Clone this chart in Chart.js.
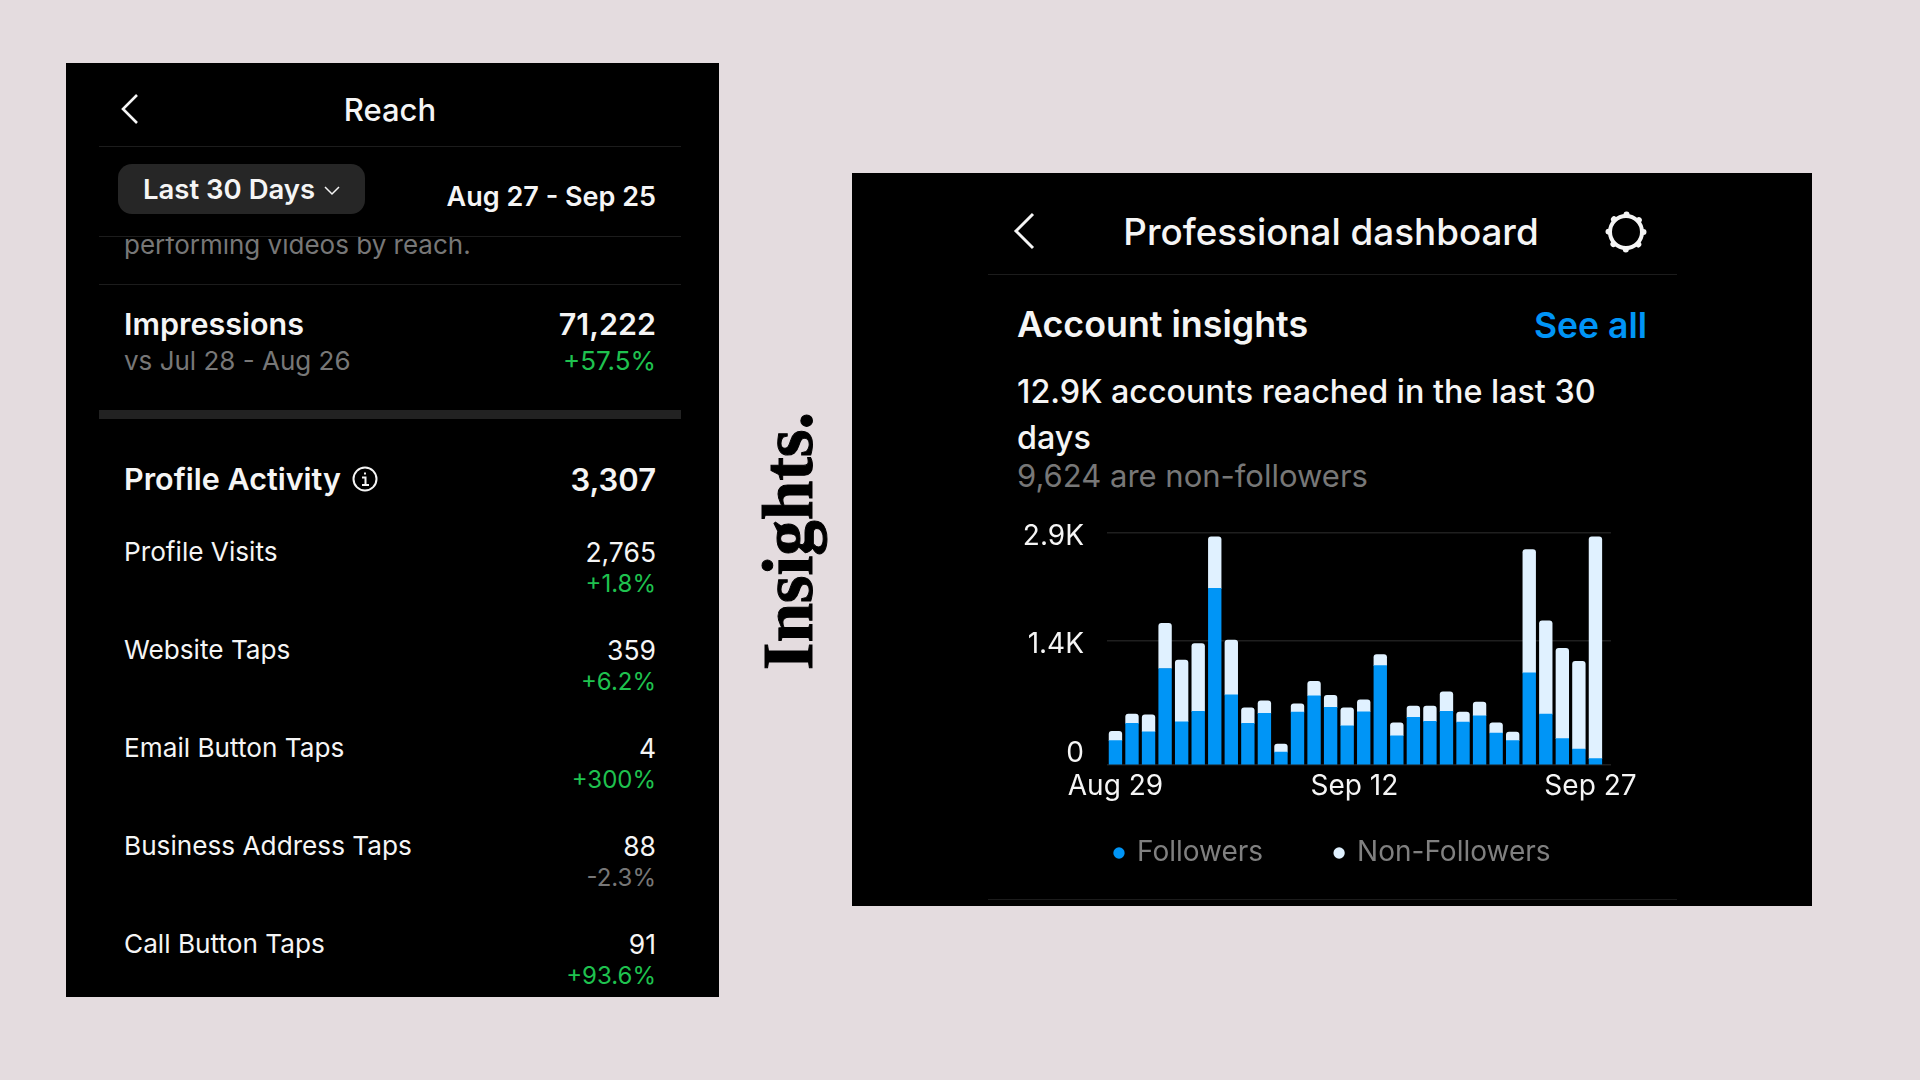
<!DOCTYPE html>
<html>
<head>
<meta charset="utf-8">
<title>Insights</title>
<script src="https://cdn.jsdelivr.net/npm/chart.js@4"></script>
<style>
html, body { margin: 0; padding: 0; }
body { width: 1920px; height: 1080px; background: #e4dcdf; position: relative; overflow: hidden; font-family: Inter, sans-serif; color: #f5f5f5; }
.panel { position: absolute; background: #000; }
.t { position: absolute; white-space: nowrap; line-height: 1; transform: translateY(-50%); }
.r { transform: translate(-100%, -50%); }
.c { transform: translate(-50%, -50%); }
.line { position: absolute; background: #1c1c1c; height: 1px; }
.grey { color: #777; }
.green { color: #1fc24f; }
svg { position: absolute; }
#insights { position: absolute; left: 788px; top: 541px; transform: translate(-50%, -50%) rotate(-90deg); font: bold 71px "Liberation Serif", serif; color: #000; white-space: nowrap; line-height: 1; -webkit-text-stroke: 1px #000; }
#chartBox { position: absolute; left: 1010px; top: 500px; width: 718px; height: 415px; }
</style>
</head>
<body>

<div class="panel" style="left:66px;top:63px;width:653px;height:934px"></div>
<div class="panel" style="left:852px;top:173px;width:960px;height:733px"></div>

<svg style="left:118px;top:92px" width="24" height="34" fill="none" stroke="#f5f5f5" stroke-width="2.6"><path d="M19 3 L5 17 L19 31"/></svg>
<div class="t c" style="left:390px;top:109px;font-size:31px;font-weight:500">Reach</div>
<div class="line" style="left:99px;top:146px;width:582px"></div>
<div style="position:absolute;left:118px;top:164px;width:247px;height:50px;border-radius:14px;background:#262626"></div>
<div class="t" style="left:143px;top:190px;font-size:27.5px;font-weight:600">Last 30 Days</div>
<svg style="left:323px;top:185px" width="18" height="12" fill="none" stroke="#f5f5f5" stroke-width="1.5"><path d="M2 2 L9 9 L16 2"/></svg>
<div class="t r" style="left:656px;top:196px;font-size:27px;font-weight:600">Aug 27 - Sep 25</div>
<div class="line" style="left:99px;top:236px;width:582px"></div>
<div style="position:absolute;left:99px;top:237px;width:582px;height:30px;overflow:hidden">
  <div class="t grey" style="left:25px;top:8px;font-size:26px">performing videos by reach.</div>
</div>
<div class="line" style="left:99px;top:284px;width:582px"></div>
<div class="t" style="left:124px;top:324px;font-size:30.5px;font-weight:600">Impressions</div>
<div class="t r" style="left:656px;top:324px;font-size:30.5px;font-weight:600">71,222</div>
<div class="t grey" style="left:124px;top:361px;font-size:26px">vs Jul 28 - Aug 26</div>
<div class="t r green" style="left:656px;top:361px;font-size:26px">+57.5%</div>
<div style="position:absolute;left:99px;top:410px;width:582px;height:9px;background:#222"></div>
<div class="t" style="left:124px;top:479px;font-size:30.5px;font-weight:600">Profile Activity</div>
<svg style="left:351px;top:465px" width="28" height="28" fill="none" stroke="#f5f5f5" stroke-width="2"><circle cx="14" cy="14" r="11.5"/><path d="M11 12.5 H14.5 V20 M11 20 H18 M14 7.5 V9.5"/></svg>
<div class="t r" style="left:656px;top:479px;font-size:31px;font-weight:600">3,307</div>
<div id="rows"></div>

<div id="insights">Insights.</div>

<svg style="left:1010px;top:211px" width="28" height="40" fill="none" stroke="#f5f5f5" stroke-width="3"><path d="M23 3 L6 20 L23 37"/></svg>
<div class="t c" style="left:1331px;top:232px;font-size:36.8px;font-weight:500">Professional dashboard</div>
<svg style="left:1602px;top:208px" width="48" height="48" fill="none" stroke="#f5f5f5"><circle cx="24" cy="24" r="16" stroke-width="4"/><circle cx="24" cy="24" r="17.5" stroke-width="6" stroke-dasharray="0.01 13.734" stroke-linecap="round"/></svg>
<div class="line" style="left:988px;top:274px;width:689px"></div>
<div class="t" style="left:1017px;top:325px;font-size:35.8px;font-weight:600">Account insights</div>
<div class="t r" style="left:1647px;top:326px;font-size:35.5px;font-weight:600;color:#0095f6">See all</div>
<div class="t" style="left:1017px;top:392px;font-size:32.3px;font-weight:500">12.9K accounts reached in the last 30</div>
<div class="t" style="left:1017px;top:438px;font-size:32.3px;font-weight:500">days</div>
<div class="t grey" style="left:1017px;top:475px;font-size:31px">9,624 are non-followers</div>
<div class="line" style="left:988px;top:899px;width:689px"></div>

<div id="chartBox"><canvas id="reachChart"></canvas></div>

<script>
const rowNames = ['Profile Visits', 'Website Taps', 'Email Button Taps', 'Business Address Taps', 'Call Button Taps'];
const rowValues = ['2,765', '359', '4', '88', '91'];
const rowChanges = ['+1.8%', '+6.2%', '+300%', '-2.3%', '+93.6%'];

const days = ['Aug 29', 'Aug 30', 'Aug 31', 'Sep 1', 'Sep 2', 'Sep 3', 'Sep 4', 'Sep 5', 'Sep 6', 'Sep 7',
    'Sep 8', 'Sep 9', 'Sep 10', 'Sep 11', 'Sep 12', 'Sep 13', 'Sep 14', 'Sep 15', 'Sep 16', 'Sep 17',
    'Sep 18', 'Sep 19', 'Sep 20', 'Sep 21', 'Sep 22', 'Sep 23', 'Sep 24', 'Sep 25', 'Sep 26', 'Sep 27'];
const followers = [305, 520, 415, 1205, 540, 670, 2205, 875, 520, 645,
    160, 660, 865, 720, 490, 665, 1240, 365, 595, 545,
    670, 535, 615, 400, 305, 1150, 635, 330, 200, 80];
const nonFollowers = [115, 115, 210, 565, 770, 845, 645, 685, 195, 155,
    100, 105, 180, 150, 225, 150, 140, 160, 140, 190,
    245, 125, 170, 125, 105, 1540, 1165, 1125, 1095, 2770];
const xTickLabels = ['Aug 29', 'Sep 12', 'Sep 27'];
const yTickLabels = ['', '0', '1.4K', '2.9K'];

const rowsEl = document.getElementById('rows');
rowNames.forEach((name, i) => {
    const top = 552 + 98 * i;
    const changeClass = rowChanges[i][0] === '+' ? 'green' : 'grey';
    rowsEl.innerHTML +=
        `<div class="t" style="left:124px;top:${top}px;font-size:26.2px">${name}</div>` +
        `<div class="t r" style="left:656px;top:${top}px;font-size:26.5px">${rowValues[i]}</div>` +
        `<div class="t r ${changeClass}" style="left:656px;top:${top + 32}px;font-size:24px">${rowChanges[i]}</div>`;
});

// legend gap comes from labels.padding, which also makes it tall, so pull it back under the axis
const legendShift = {
    id: 'legendShift',
    afterLayout(chart) {
        chart.legend.top -= 38;
        chart.legend.bottom -= 38;
        chart.legend.left += 33;
        chart.legend.right += 90;
    }
};

new Chart(document.getElementById('reachChart'), {
    type: 'bar',
    plugins: [legendShift],
    data: {
        datasets: [
            {
                label: 'Followers',
                data: followers.map((v, i) => ({ x: i, y: v })),
                backgroundColor: '#0095f6',
                barThickness: 12.7
            },
            {
                label: 'Non-Followers',
                data: nonFollowers.map((v, i) => ({ x: i, y: v })),
                backgroundColor: '#e0f1ff',
                barThickness: 12.7,
                borderRadius: { topLeft: 3, topRight: 3 },
                borderSkipped: false
            }
        ]
    },
    options: {
        responsive: true,
        maintainAspectRatio: false,
        animation: false,
        layout: { padding: { top: 32.7, right: 117, bottom: 0, left: 0 } },
        plugins: {
            tooltip: { enabled: false },
            legend: {
                position: 'bottom',
                align: 'start',
                labels: {
                    usePointStyle: true,
                    pointStyle: 'circle',
                    boxHeight: 8,
                    boxWidth: 8,
                    padding: 72,
                    color: '#808080',
                    font: { family: 'Inter', size: 28 }
                }
            }
        },
        scales: {
            x: {
                type: 'linear',
                stacked: true,
                offset: false,
                min: -0.51,
                max: 29.94,
                grid: { display: false, drawTicks: false },
                border: { display: false },
                afterBuildTicks: s => { s.ticks = [{ value: 0 }, { value: 14.44 }, { value: 28.7 }]; },
                afterFit: s => { s.height = 40; s.paddingLeft = 0; s.paddingRight = 0; },
                ticks: {
                    autoSkip: false,
                    maxRotation: 0,
                    padding: 5,
                    color: '#f5f5f5',
                    font: { family: 'Inter', size: 28 },
                    callback: (v, i) => xTickLabels[i]
                }
            },
            y: {
                stacked: true,
                min: 0,
                max: 2900,
                border: { display: false },
                afterBuildTicks: s => { s.ticks = [{ value: 0 }, { value: 190 }, { value: 1548 }, { value: 2900 }]; },
                afterFit: s => { s.width = 97; s.paddingTop = 0; s.paddingBottom = 0; },
                grid: {
                    drawTicks: false,
                    lineWidth: 1.5,
                    color: c => c.index === 1 ? 'transparent' : '#1f1f1f'
                },
                ticks: {
                    autoSkip: false,
                    padding: 23,
                    labelOffset: 3.8,
                    color: '#f5f5f5',
                    font: { family: 'Inter', size: 28 },
                    callback: (v, i) => yTickLabels[i]
                }
            }
        }
    }
});
</script>
</body>
</html>
